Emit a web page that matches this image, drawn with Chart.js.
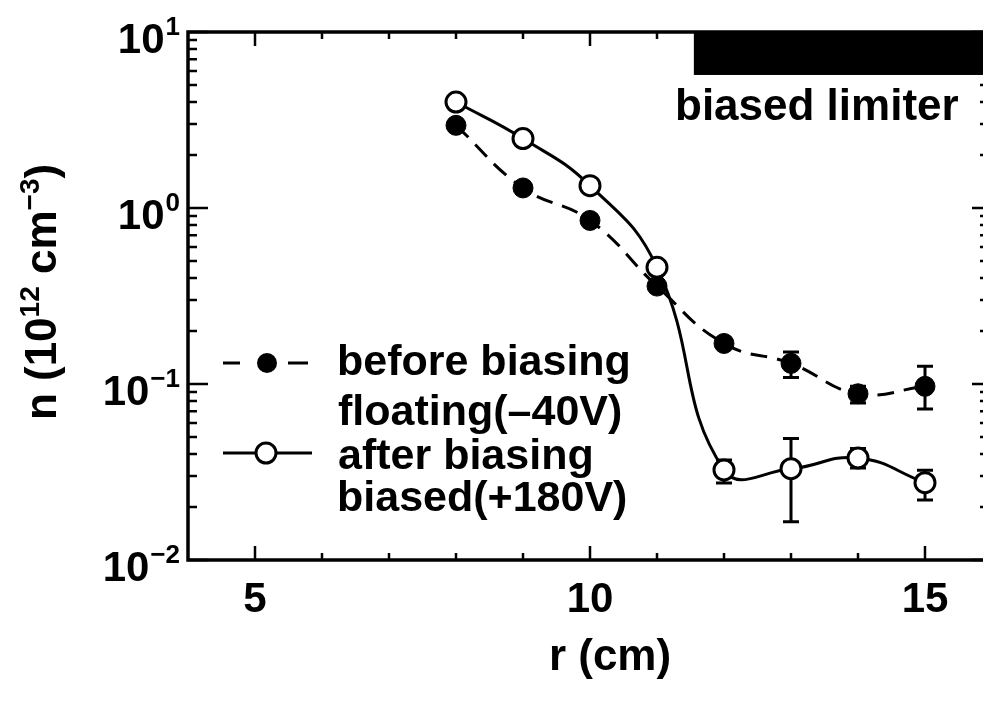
<!DOCTYPE html>
<html>
<head>
<meta charset="utf-8">
<script src="https://cdn.jsdelivr.net/npm/chart.js@4/dist/chart.umd.min.js"></script>
<style>
    html, body { margin: 0; padding: 0; background: #fff; overflow: hidden; }
    #wrap { width: 983px; height: 701px; overflow: hidden; }
</style>
</head>
<body>
<div id="wrap"><canvas id="density-chart" width="1005" height="701"></canvas></div>
<script>
// radial positions (cm)
const radius = [8, 9, 10, 11, 12, 13, 14, 15];

// density n (10^12 cm^-3), before biasing (floating, -40V)
const beforeDensity = [2.95, 1.30, 0.85, 0.36, 0.17, 0.131, 0.088, 0.097];
const beforeLow = [null, null, null, null, null, 0.109, 0.078, 0.072];
const beforeHigh = [null, null, null, null, null, 0.152, 0.097, 0.126];

// density after biasing (biased, +180V)
const afterDensity = [4.0, 2.48, 1.34, 0.46, 0.0325, 0.033, 0.038, 0.0275];
const afterLow = [null, null, null, null, 0.0274, 0.0165, 0.0333, 0.0219];
const afterHigh = [null, null, null, null, 0.037, 0.049, 0.043, 0.0324];

// axis ticks
const xLabels = [5, 10, 15];
const xMinorTicks = [5, 6, 7, 8, 9, 10, 11, 12, 13, 14, 15];
const yPowers = [-2, -1, 0, 1];

// limiter region (cm) and bar height (value on the density axis)
const limiterFrom = 11.55;
const limiterBottom = 5.7;

const FONT = '"Liberation Sans", Arial, Helvetica, sans-serif';

function points(values) {
    return radius.map((r, i) => ({x: r, y: values[i]}));
}

const errorBars = {
    id: 'errorBars',
    beforeDatasetsDraw(chart) {
        const ctx = chart.ctx;
        const x = chart.scales.x;
        const y = chart.scales.y;
        ctx.save();
        ctx.strokeStyle = '#000';
        ctx.lineWidth = 3;
        chart.data.datasets.forEach((ds) => {
            for (let i = 0; i < radius.length; i++) {
                if (ds.errLow[i] === null) {
                    continue;
                }
                const px = x.getPixelForValue(radius[i]);
                const lo = y.getPixelForValue(ds.errLow[i]);
                const hi = y.getPixelForValue(ds.errHigh[i]);
                ctx.beginPath();
                ctx.moveTo(px, lo);
                ctx.lineTo(px, hi);
                ctx.moveTo(px - 8, lo);
                ctx.lineTo(px + 8, lo);
                ctx.moveTo(px - 8, hi);
                ctx.lineTo(px + 8, hi);
                ctx.stroke();
            }
        });
        ctx.restore();
    }
};

function powerLabel(ctx, exp, right, tickY) {
    ctx.font = 'bold 42px ' + FONT;
    const baseW = ctx.measureText('10').width;
    ctx.font = 'bold 26px ' + FONT;
    const supW = ctx.measureText(exp).width;
    ctx.fillText(exp, right - supW, tickY + 3);
    ctx.font = 'bold 42px ' + FONT;
    ctx.fillText('10', right - supW - baseW - 1, tickY + 21);
}

const frame = {
    id: 'frame',
    afterDraw(chart) {
        const ctx = chart.ctx;
        const a = chart.chartArea;
        const x = chart.scales.x;
        const y = chart.scales.y;
        ctx.save();
        ctx.strokeStyle = '#000';
        ctx.fillStyle = '#000';

        // limiter bar
        const lx = x.getPixelForValue(limiterFrom);
        const ly = y.getPixelForValue(limiterBottom);
        ctx.fillRect(lx, a.top, a.right - lx, ly - a.top);

        // box
        ctx.lineWidth = 3.5;
        ctx.strokeRect(a.left, a.top, a.right - a.left, a.bottom - a.top);

        // ticks
        ctx.lineWidth = 2.5;
        ctx.beginPath();
        xMinorTicks.forEach((v) => {
            const px = x.getPixelForValue(v);
            const len = xLabels.includes(v) ? 14 : 7;
            ctx.moveTo(px, a.bottom);
            ctx.lineTo(px, a.bottom - len);
            ctx.moveTo(px, a.top);
            ctx.lineTo(px, a.top + len);
        });
        for (let p = -2; p <= 1; p++) {
            const steps = p < 1 ? [1, 2, 3, 4, 5, 6, 7, 8, 9] : [1];
            steps.forEach((m) => {
                const py = y.getPixelForValue(m * Math.pow(10, p));
                ctx.moveTo(a.left, py);
                ctx.lineTo(a.left + (m === 1 ? 20 : 9), py);
                ctx.moveTo(a.right, py);
                ctx.lineTo(a.right - (m === 1 ? 20 : 12), py);
            });
        }
        ctx.stroke();

        // tick labels
        ctx.textBaseline = 'alphabetic';
        ctx.textAlign = 'left';
        yPowers.forEach((p) => {
            const exp = p < 0 ? '\u2212' + (-p) : String(p);
            powerLabel(ctx, exp, 180, y.getPixelForValue(Math.pow(10, p)));
        });
        ctx.textAlign = 'center';
        ctx.font = 'bold 42px ' + FONT;
        xLabels.forEach((v) => {
            ctx.fillText(String(v), x.getPixelForValue(v), 612);
        });

        // axis titles
        ctx.font = 'bold 44px ' + FONT;
        ctx.fillText('r (cm)', 610, 670);

        ctx.save();
        ctx.translate(56, 292);
        ctx.rotate(-Math.PI / 2);
        const parts = [['n (10', 44, 0], ['12', 28, -17], [' cm', 44, 0], ['\u22123', 28, -17], [')', 44, 0]];
        let total = 0;
        parts.forEach((pt) => {
            ctx.font = 'bold ' + pt[1] + 'px ' + FONT;
            total += ctx.measureText(pt[0]).width;
        });
        ctx.textAlign = 'left';
        let cx = -total / 2;
        parts.forEach((pt) => {
            ctx.font = 'bold ' + pt[1] + 'px ' + FONT;
            ctx.fillText(pt[0], cx, pt[2]);
            cx += ctx.measureText(pt[0]).width;
        });
        ctx.restore();

        // limiter label
        ctx.textAlign = 'left';
        ctx.font = 'bold 44px ' + FONT;
        ctx.fillText('biased limiter', 675, 120);

        // legend
        ctx.lineWidth = 3;
        ctx.beginPath();
        ctx.moveTo(223, 363);
        ctx.lineTo(240, 363);
        ctx.moveTo(288, 363);
        ctx.lineTo(308, 363);
        ctx.stroke();
        ctx.beginPath();
        ctx.arc(267, 363, 10, 0, Math.PI * 2);
        ctx.fill();

        ctx.beginPath();
        ctx.moveTo(223, 453);
        ctx.lineTo(312, 453);
        ctx.stroke();
        ctx.beginPath();
        ctx.arc(266, 453, 10, 0, Math.PI * 2);
        ctx.fillStyle = '#fff';
        ctx.fill();
        ctx.stroke();
        ctx.fillStyle = '#000';

        ctx.font = 'bold 43px ' + FONT;
        ctx.fillText('before biasing', 337, 375);
        ctx.fillText('floating(\u201340V)', 338, 425);
        ctx.fillText('after biasing', 338, 469);
        ctx.fillText('biased(+180V)', 337, 511);
        ctx.restore();
    }
};

new Chart(document.getElementById('density-chart'), {
    type: 'line',
    data: {
        datasets: [
            {
                label: 'after biasing',
                data: points(afterDensity),
                errLow: afterLow,
                errHigh: afterHigh,
                borderColor: '#000',
                borderWidth: 3,
                tension: 0.45,
                pointRadius: 10,
                pointBorderWidth: 3,
                pointBackgroundColor: '#fff',
                pointBorderColor: '#000',
                order: 0,
            },
            {
                label: 'before biasing',
                data: points(beforeDensity),
                errLow: beforeLow,
                errHigh: beforeHigh,
                borderColor: '#000',
                borderWidth: 3,
                borderDash: [17, 10],
                tension: 0.45,
                pointRadius: 10,
                pointBorderWidth: 1,
                pointBackgroundColor: '#000',
                pointBorderColor: '#000',
                order: 1,
            },
        ]
    },
    options: {
        responsive: false,
        animation: false,
        layout: {padding: {left: 188, top: 32, right: 5, bottom: 141}},
        plugins: {legend: {display: false}, tooltip: {enabled: false}},
        scales: {
            x: {type: 'linear', min: 4, max: 16, display: false},
            y: {type: 'logarithmic', min: 0.01, max: 10, display: false},
        },
    },
    plugins: [errorBars, frame],
});
</script>
</body>
</html>
